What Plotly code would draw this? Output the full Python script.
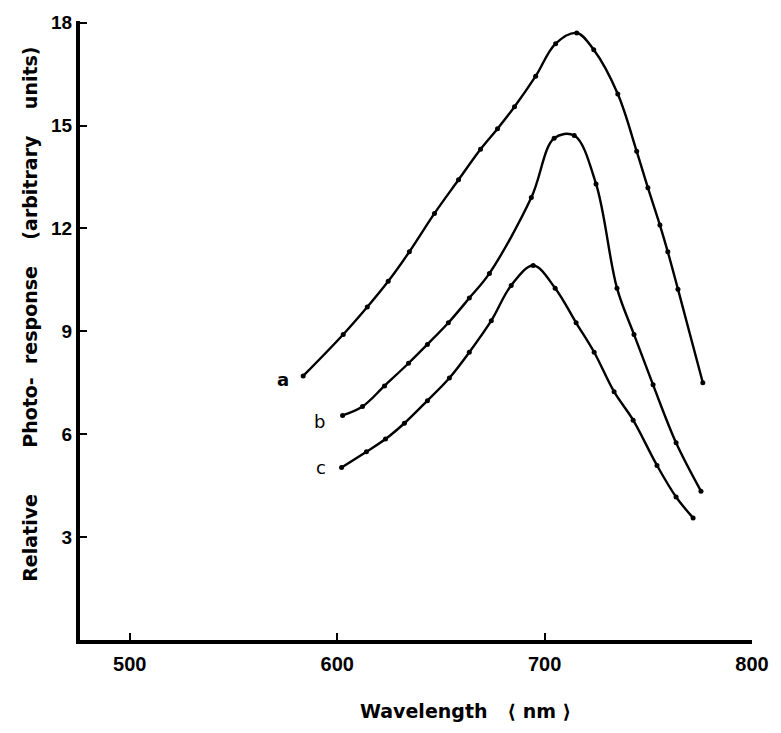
import plotly.graph_objects as go

# Curve a
wl_a = [583.6, 602.9, 614.5, 624.6, 634.8, 646.9, 658.5, 669.1, 677.3, 685.5, 695.7,
        705.3, 715.5, 723.7, 735.3, 744.4, 749.8, 755.6, 759.4, 764.3, 776.3]
val_a = [7.70, 8.91, 9.71, 10.46, 11.32, 12.44, 13.42, 14.31, 14.91, 15.55, 16.44,
         17.39, 17.70, 17.21, 15.92, 14.25, 13.19, 12.10, 11.32, 10.23, 7.50]

# Curve b
wl_b = [602.6, 612.2, 622.8, 634.4, 643.5, 653.6, 663.7, 673.4, 693.6, 704.6, 714.3,
        724.8, 734.9, 743.1, 752.3, 763.4, 775.4]
val_b = [6.55, 6.81, 7.41, 8.07, 8.62, 9.25, 9.97, 10.69, 12.90, 14.63, 14.71,
         13.30, 10.26, 8.91, 7.44, 5.75, 4.34]

# Curve c
wl_c = [602.1, 614.1, 623.3, 632.4, 643.5, 654.1, 663.7, 674.3, 683.9, 694.5, 705.1,
        715.2, 723.9, 733.5, 742.7, 754.2, 763.4, 771.6]
val_c = [5.03, 5.49, 5.86, 6.32, 6.98, 7.64, 8.39, 9.31, 10.34, 10.92, 10.26,
         9.25, 8.39, 7.24, 6.41, 5.09, 4.17, 3.56]

curve_labels = ["a", "b", "c"]
label_wl = [573.7, 591.5, 592.4]
label_val = [7.61, 6.38, 5.03]

x_ticks = [500, 600, 700, 800]
y_ticks = [3, 6, 9, 12, 15, 18]

NB = "\u00a0"
x_title = "Wavelength" + NB * 3 + "\u27e8" + NB + "nm" + NB + "\u27e9"
y_title = ("Relative" + NB * 7 + "Photo-" + NB * 2 + "response" + NB * 4 +
           "(arbitrary" + NB * 4 + "units)")

fig = go.Figure()
for wl, val in [(wl_a, val_a), (wl_b, val_b), (wl_c, val_c)]:
    fig.add_trace(go.Scatter(
        x=wl, y=val, mode="lines+markers",
        line=dict(color="black", width=2.4, shape="spline", smoothing=1.0),
        marker=dict(color="black", size=5, symbol="circle"),
        showlegend=False, hoverinfo="skip"))

for t, xv, yv in zip(curve_labels, label_wl, label_val):
    fig.add_annotation(x=xv, y=yv, text=t, showarrow=False,
                       font=dict(family="DejaVu Sans", size=18, color="black",
                                 weight="bold" if t == "a" else "normal"),
                       xanchor="center", yanchor="middle")

fig.add_annotation(xref="paper", yref="paper", x=(466 - 80) / 673, y=(640 - 712) / 628,
                   text=x_title, showarrow=False, xanchor="center", yanchor="middle",
                   font=dict(family="DejaVu Sans", size=19, color="black", weight="bold"))
fig.add_annotation(xref="paper", yref="paper", x=(30 - 80) / 673, y=(640 - 310) / 628,
                   text=y_title, showarrow=False, textangle=-90,
                   xanchor="center", yanchor="middle",
                   font=dict(family="DejaVu Sans", size=19, color="black", weight="bold"))

x_font = dict(family="Liberation Sans", size=20, color="black", weight="bold")
y_font = dict(family="Liberation Sans", size=19, color="black", weight="bold")
fig.update_xaxes(range=[476, 800], tickvals=x_ticks, ticks="inside", ticklen=7,
                 tickwidth=2, tickcolor="black", showline=True, linecolor="black",
                 linewidth=4, showgrid=False, zeroline=False, tickfont=x_font,
                 ticklabelstandoff=3)
fig.update_yaxes(range=[0, 18.05], tickvals=y_ticks, ticks="inside", ticklen=7,
                 tickwidth=2, tickcolor="black", showline=True, linecolor="black",
                 linewidth=4, showgrid=False, zeroline=False, tickfont=y_font,
                 ticklabelstandoff=0)

fig.update_layout(width=781, height=733, margin=dict(l=80, r=28, t=12, b=93),
                  paper_bgcolor="white", plot_bgcolor="white")

fig.write_html("out.html")
